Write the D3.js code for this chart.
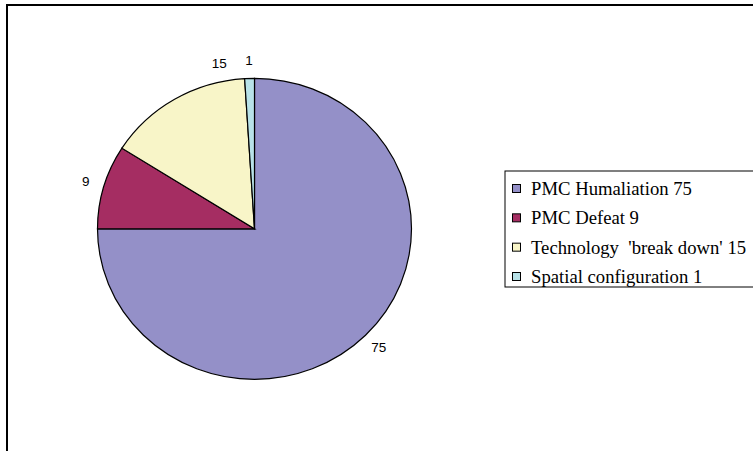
<!DOCTYPE html>
<html>
<head>
<meta charset="utf-8">
<script src="https://cdn.jsdelivr.net/npm/d3@7/dist/d3.min.js"></script>
<style>
  html, body { margin: 0; padding: 0; background: #fff; }
  svg { display: block; }
</style>
</head>
<body>
<svg id="chart" width="753" height="451"></svg>
<script>
// Reasons, with counts, and their slice colours
const categories = ["PMC Humaliation", "PMC Defeat", "Technology  'break down'", "Spatial configuration"];
const values = [75, 9, 15, 1];
const colors = ["#9490c8", "#a52d62", "#f8f5c8", "#b8e2e8"];

// Angular nudge (degrees) for value labels that would otherwise crowd
const labelNudge = [0, 0, 19, 0];

const svg = d3.select("#chart");

// Outer chart frame (runs past the right and bottom of the view)
svg.append("rect")
  .attr("x", 7).attr("y", 5)
  .attr("width", 800).attr("height", 500)
  .attr("fill", "#fff")
  .attr("stroke", "#000").attr("stroke-width", 2);

const cx = 254.5, cy = 228.8, ry = 150.5, rx = 157;
const sx = rx / ry;

const pie = d3.pie().sort(null).value(d => d)(values);
const arc = d3.arc().innerRadius(0).outerRadius(ry);

const g = svg.append("g")
  .attr("transform", `translate(${cx},${cy}) scale(${sx},1)`);

g.selectAll("path.slice")
  .data(pie)
  .join("path")
  .attr("class", "slice")
  .attr("d", arc)
  .attr("fill", (d, i) => colors[i])
  .attr("stroke", "#000")
  .attr("stroke-width", 1.2)
  .attr("vector-effect", "non-scaling-stroke");

// Value labels just outside each slice
const labelR = ry + 18;
function labelPos(d, i) {
  const a = (d.startAngle + d.endAngle) / 2 + labelNudge[i] * Math.PI / 180;
  return [cx + Math.sin(a) * labelR * sx, cy - Math.cos(a) * labelR];
}
svg.append("g")
  .selectAll("text")
  .data(pie)
  .join("text")
  .attr("x", (d, i) => labelPos(d, i)[0])
  .attr("y", (d, i) => labelPos(d, i)[1])
  .attr("text-anchor", "middle")
  .attr("dominant-baseline", "central")
  .attr("font-family", "Liberation Sans, Arial, sans-serif")
  .attr("font-size", 13.5)
  .attr("fill", "#000")
  .text(d => d.data);

// Legend
const legend = svg.append("g");
legend.append("rect")
  .attr("x", 505).attr("y", 171)
  .attr("width", 300).attr("height", 116)
  .attr("fill", "#fff")
  .attr("stroke", "#000").attr("stroke-width", 1);

const rowY = d3.scalePoint().domain(d3.range(categories.length)).range([189, 277]);

const rows = legend.selectAll("g.row")
  .data(categories)
  .join("g")
  .attr("class", "row")
  .attr("transform", (d, i) => `translate(0,${rowY(i)})`);

rows.append("rect")
  .attr("x", 512.5).attr("y", -4.5)
  .attr("width", 8).attr("height", 8)
  .attr("fill", (d, i) => colors[i])
  .attr("stroke", "#000").attr("stroke-width", 1);

rows.append("text")
  .attr("x", 531).attr("y", 6)
  .attr("font-family", "Liberation Serif, Times New Roman, serif")
  .attr("font-size", 18.7)
  .attr("fill", "#000")
  .style("white-space", "pre")
  .text((d, i) => `${d} ${values[i]}`);
</script>
</body>
</html>
